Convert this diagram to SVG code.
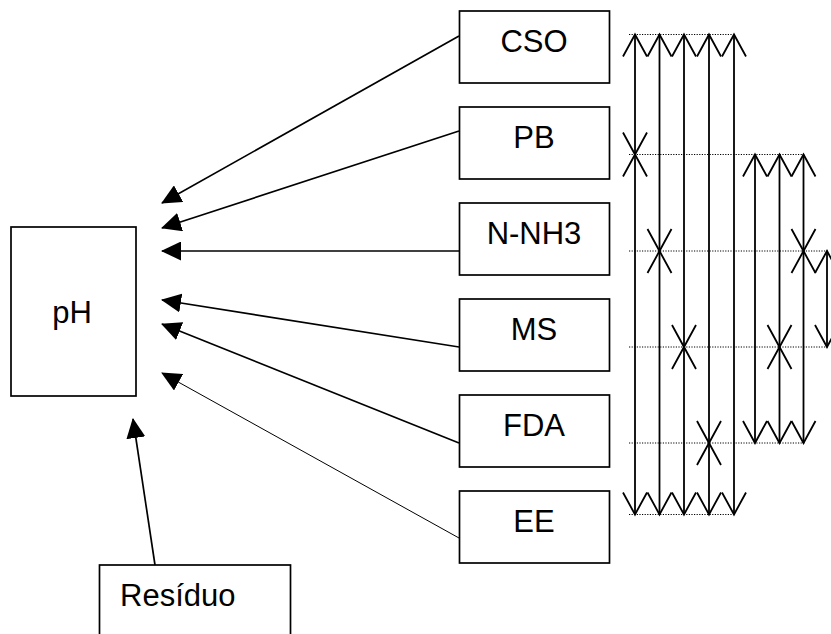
<svg xmlns="http://www.w3.org/2000/svg" width="831" height="634" viewBox="0 0 831 634">
<style>
.box{fill:#fff;stroke:#000;stroke-width:1.7}
.lbl{font-family:"Liberation Sans",Arial,sans-serif;font-size:31px;fill:#000}
.c{text-anchor:middle}
.arr{fill:none;stroke:#000;stroke-width:1.7;marker-end:url(#tri)}
.thin{stroke-width:1}
.dbl{fill:none;stroke:#000;stroke-width:1.8;marker-start:url(#v);marker-end:url(#v)}
.dot{fill:none;stroke:#000;stroke-width:1;stroke-dasharray:1.2 1.4}
</style>
<defs>
<marker id="tri" markerUnits="userSpaceOnUse" viewBox="0 0 20 19" refX="19" refY="9.5" markerWidth="20" markerHeight="19" orient="auto">
<path d="M0,0 L20,9.5 L0,19 z" fill="#000"/>
</marker>
<marker id="v" markerUnits="userSpaceOnUse" viewBox="-2 -14 26 28" refX="22" refY="0" markerWidth="26" markerHeight="28" orient="auto-start-reverse" overflow="visible">
<path d="M0,-12 L22,0 L0,12" fill="none" stroke="#000" stroke-width="1.8"/>
</marker>
</defs>

<g id="pH"><rect class="box" x="11" y="227" width="125" height="169"/><text class="lbl c" x="72" y="323">pH</text></g>
<g id="CSO"><rect class="box" x="459.5" y="11" width="150" height="72"/><text class="lbl c" x="534" y="52">CSO</text></g>
<g id="PB"><rect class="box" x="459.5" y="107" width="150" height="72"/><text class="lbl c" x="534" y="148">PB</text></g>
<g id="N-NH3"><rect class="box" x="459.5" y="203" width="150" height="72"/><text class="lbl c" x="534" y="244">N-NH3</text></g>
<g id="MS"><rect class="box" x="459.5" y="299" width="150" height="72"/><text class="lbl c" x="534" y="340">MS</text></g>
<g id="FDA"><rect class="box" x="459.5" y="395" width="150" height="72"/><text class="lbl c" x="534" y="436">FDA</text></g>
<g id="EE"><rect class="box" x="459.5" y="491" width="150" height="72"/><text class="lbl c" x="534" y="532">EE</text></g>
<g id="Residuo"><rect class="box" x="99.5" y="565" width="191" height="90"/><text class="lbl" x="120" y="606">Resíduo</text></g>

<g id="connectors">
<line class="arr" x1="459" y1="36" x2="162" y2="203"/>
<line class="arr" x1="459" y1="131" x2="162" y2="228"/>
<line class="arr" x1="459" y1="251" x2="162" y2="251"/>
<line class="arr" x1="459" y1="347" x2="162" y2="300"/>
<line class="arr" x1="459" y1="443" x2="162" y2="324"/>
<line class="arr thin" x1="459" y1="538" x2="162" y2="373"/>
<line class="arr" x1="155" y1="565" x2="133" y2="419"/>
</g>

<g id="correlations">
<line class="dot" x1="629" y1="34.5" x2="733" y2="34.5"/>
<line class="dot" x1="629" y1="154.5" x2="804" y2="154.5"/>
<line class="dot" x1="629" y1="251" x2="828" y2="251"/>
<line class="dot" x1="629" y1="347" x2="828" y2="347"/>
<line class="dot" x1="629" y1="443" x2="805" y2="443"/>
<line class="dot" x1="629" y1="514.5" x2="733" y2="514.5"/>

<line class="dbl" x1="635" y1="34.5" x2="635" y2="154.5"/>
<line class="dbl" x1="635" y1="154.5" x2="635" y2="514.5"/>
<line class="dbl" x1="659.5" y1="34.5" x2="659.5" y2="251"/>
<line class="dbl" x1="659.5" y1="251" x2="659.5" y2="514.5"/>
<line class="dbl" x1="684" y1="34.5" x2="684" y2="347"/>
<line class="dbl" x1="684" y1="347" x2="684" y2="514.5"/>
<line class="dbl" x1="709" y1="34.5" x2="709" y2="443"/>
<line class="dbl" x1="709" y1="443" x2="709" y2="514.5"/>
<line class="dbl" x1="734" y1="34.5" x2="734" y2="514.5"/>

<line class="dbl" x1="755" y1="154.5" x2="755" y2="443"/>
<line class="dbl" x1="779.5" y1="154.5" x2="779.5" y2="347"/>
<line class="dbl" x1="779.5" y1="347" x2="779.5" y2="443"/>
<line class="dbl" x1="803.5" y1="154.5" x2="803.5" y2="251"/>
<line class="dbl" x1="803.5" y1="251" x2="803.5" y2="443"/>

<line class="dbl" x1="827" y1="251" x2="827" y2="347"/>
</g>
</svg>
